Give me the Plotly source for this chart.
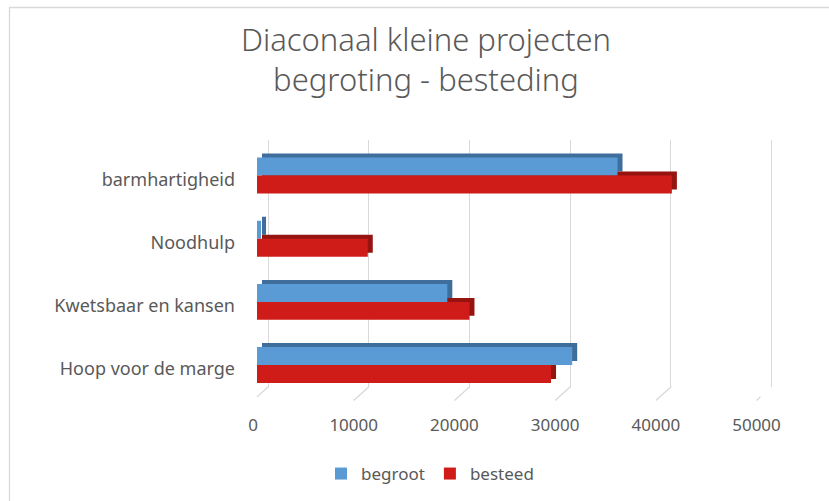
import plotly.graph_objects as go

# ---------------- data ----------------
categories = ["barmhartigheid", "Noodhulp", "Kwetsbaar en kansen", "Hoop voor de marge"]
begroot = [35800, 400, 18900, 31300]
besteed = [41200, 11000, 21100, 29200]
tick_vals = [0, 10000, 20000, 30000, 40000, 50000]
tick_text = ["0", "10000", "20000", "30000", "40000", "50000"]
title_lines = ["Diaconaal kleine projecten", "begroting - besteding"]

W, H = 829, 501
BLUE, BLUE_D = "#5b9bd5", "#3f6e9c"
RED, RED_D = "#cf1c18", "#961410"
TXT = "#595959"
GRID = "#d9d9d9"
FONT = "Noto Sans"


def fx(p):
    return p / W


def fy(p):
    return 1 - p / H


# front plane geometry (pixels)
X0, SCALE = 257.0, 100.7 / 10000.0
XMAX = 50000
Y_TOP, Y_BOT = 144.0, 396.6
DX_BAR, DY_BAR = 5.0, 4.0      # bar depth offset
DX_WALL, DY_WALL = 11.0, 10.0  # back wall offset
RPAD = 500


def xdom(dx, rmin, rmax):
    return [fx(X0 + dx + rmin * SCALE), fx(X0 + dx + rmax * SCALE)]


fig = go.Figure()

# wall subplot (grid only)
fig.add_trace(go.Scatter(x=[0], y=[0.5], mode="markers", marker=dict(opacity=0),
                         showlegend=False, hoverinfo="skip", xaxis="x", yaxis="y"))

# back faces of bars (depth)
fig.add_trace(go.Bar(y=categories, x=begroot, orientation="h", marker=dict(color=BLUE_D, line=dict(width=0)),
                     showlegend=False, hoverinfo="skip", xaxis="x2", yaxis="y2"))
fig.add_trace(go.Bar(y=categories, x=besteed, orientation="h", marker=dict(color=RED_D, line=dict(width=0)),
                     showlegend=False, hoverinfo="skip", xaxis="x2", yaxis="y2"))

# front faces
fig.add_trace(go.Bar(y=categories, x=begroot, orientation="h", name="begroot",
                     marker=dict(color=BLUE, line=dict(width=0)), xaxis="x3", yaxis="y3"))
fig.add_trace(go.Bar(y=categories, x=besteed, orientation="h", name="besteed",
                     marker=dict(color=RED, line=dict(width=0)), xaxis="x3", yaxis="y3"))

cat_axis = dict(type="category", categoryorder="array", categoryarray=categories,
                autorange="reversed")

fig.update_layout(
    width=W, height=H, autosize=False,
    margin=dict(l=0, r=0, t=0, b=0, pad=0),
    paper_bgcolor="white", plot_bgcolor="rgba(0,0,0,0)",
    barmode="group", bargap=0.43, bargroupgap=0,
    font=dict(family=FONT, color=TXT, size=17),
    xaxis=dict(domain=xdom(DX_WALL, -RPAD, XMAX + RPAD), range=[-RPAD, XMAX + RPAD],
               anchor="y", tickvals=tick_vals, showticklabels=False, showgrid=True,
               gridcolor=GRID, gridwidth=1.3, zeroline=False, showline=False, ticks="",
               automargin=False),
    yaxis=dict(domain=[fy(396.6 - DY_WALL), fy(Y_TOP - 4)], range=[0, 1], anchor="x",
               visible=False, showgrid=False, automargin=False),
    xaxis2=dict(domain=xdom(DX_BAR, 0, XMAX), range=[0, XMAX], anchor="y2",
                visible=False, showgrid=False, automargin=False),
    yaxis2=dict(domain=[fy(Y_BOT - DY_BAR), fy(Y_TOP - DY_BAR)], anchor="x2",
                visible=False, showgrid=False, automargin=False, **cat_axis),
    xaxis3=dict(domain=xdom(0, 0, XMAX), range=[0, XMAX], anchor="y3",
                tickvals=tick_vals, ticktext=tick_text, showgrid=False, zeroline=False,
                showline=False, ticks="", ticklabelstandoff=16, ticklabelshift=-4,
                tickfont=dict(size=17, color=TXT), automargin=False),
    yaxis3=dict(domain=[fy(Y_BOT), fy(Y_TOP)], anchor="x3", showgrid=False, zeroline=False,
                showline=False, ticks="", ticklabelstandoff=21, ticklabelshift=-4,
                tickfont=dict(size=18, color=TXT), automargin=False, **cat_axis),
    title=dict(text="<br>".join(title_lines), x=fx(426), xanchor="center",
               y=fy(51), yanchor="top", automargin=False,
               font=dict(family=FONT, size=31, color=TXT, weight=300)),
    legend=dict(orientation="h", x=fx(430), xanchor="center", y=fy(474), yanchor="middle",
                font=dict(size=17, color=TXT), itemwidth=30, bgcolor="rgba(0,0,0,0)"),
    showlegend=True,
)

shapes = []
for t in tick_vals:
    shapes.append(dict(type="line", xref="x3", xsizemode="pixel", xanchor=t,
                       x0=-4, x1=DX_WALL + 0.5, yref="paper", ysizemode="pixel",
                       yanchor=fy(400.5), y0=0, y1=14,
                       line=dict(color=GRID, width=1.3), layer="below"))
# chart area border
shapes.append(dict(type="rect", xref="paper", yref="paper", x0=fx(9.5), x1=1.05,
                   y0=-0.05, y1=fy(7.5), line=dict(color=GRID, width=1.3), layer="below"))
fig.update_layout(shapes=shapes)

fig.write_html("out.html", config={"responsive": False, "displayModeBar": False},
               post_script="document.body.style.margin='0';document.body.style.overflow='hidden';")
